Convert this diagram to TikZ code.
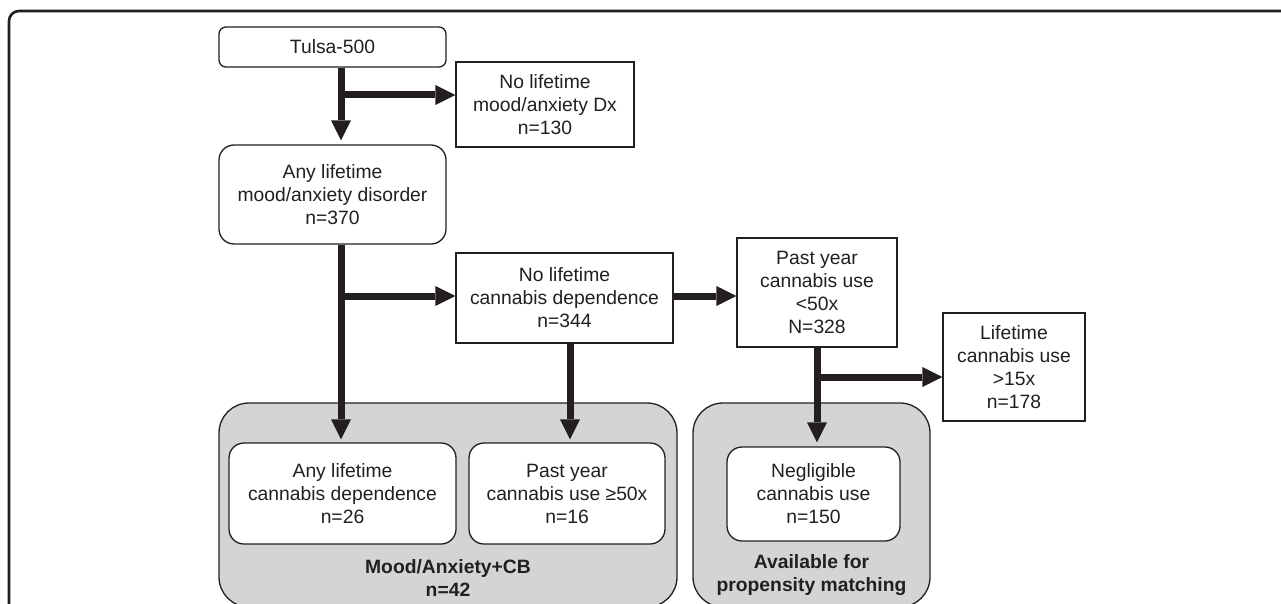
\documentclass[tikz,border=0pt]{standalone}
\usepackage{fontspec}
\setmainfont{Liberation Sans}
\usetikzlibrary{arrows.meta}
\definecolor{ink}{HTML}{231F20}
\definecolor{panel}{HTML}{D3D4D6}
\begin{document}
\begin{tikzpicture}[x=1pt,y=-1pt,
  txt/.style={font=\fontsize{19.3}{23}\selectfont, align=center, text=ink},
  boldtxt/.style={font=\fontsize{19.3}{23}\selectfont\bfseries, align=center, text=ink},
  sq/.style={txt, draw=ink, line width=1.3pt, fill=white, inner sep=0pt},
  rbox/.style={sq, rounded corners=#1},
  panelbox/.style={draw=ink, line width=1.3pt, fill=panel, rounded corners=30pt, inner sep=0pt},
  arr/.style={draw=ink, line width=7pt, -{Triangle[length=20pt,width=20pt,line width=0pt]}},
  frame/.style={draw=ink, line width=2.6pt, rounded corners=10pt}
]
\useasboundingbox (0,0) rectangle (1281,604);
\clip (0,0) rectangle (1281,604);
\fill[white] (0,0) rectangle (1281,604);
\draw[frame] (9,11) rectangle (1320,640);

% grey panels
\node[panelbox, minimum width=458pt, minimum height=204pt] (g1) at (448,505) {};
\node[panelbox, minimum width=237pt, minimum height=204pt] (g2) at (811.5,505) {};
\node[boldtxt] (g1lab) at (448,578) {Mood/Anxiety+CB\\n=42};
\node[boldtxt] (g2lab) at (811.5,575.5) {Available for\\propensity matching};

% boxes
\node[rbox=7pt, minimum width=227pt, minimum height=40pt] (tulsa) at (332.5,47) {Tulsa-500};
\node[sq, minimum width=178pt, minimum height=85pt] (nodx) at (545,104.5) {No lifetime\\mood/anxiety Dx\\n=130};
\node[rbox=15pt, minimum width=227pt, minimum height=99pt] (any) at (332.5,194.5) {Any lifetime\\mood/anxiety disorder\\n=370};
\node[sq, minimum width=217pt, minimum height=90pt] (nocd) at (564.5,298) {No lifetime\\cannabis dependence\\n=344};
\node[sq, minimum width=160pt, minimum height=109pt] (py) at (817,292.5) {Past year\\cannabis use\\<50x\\N=328};
\node[sq, minimum width=142pt, minimum height=108pt] (lt) at (1014,367) {Lifetime\\cannabis use\\>15x\\n=178};
\node[rbox=15pt, minimum width=227pt, minimum height=101pt] (in1) at (342.5,493.5) {Any lifetime\\cannabis dependence\\n=26};
\node[rbox=15pt, minimum width=196pt, minimum height=101pt] (in2) at (567,493.5) {Past year\\cannabis use ≥50x\\n=16};
\node[rbox=15pt, minimum width=173pt, minimum height=94pt] (neg) at (813.5,494) {Negligible\\cannabis use\\n=150};

% junction coordinates
\coordinate (c1) at (341,0);
\coordinate (c2) at (570,0);
\coordinate (c3) at (817,0);
\coordinate (j1) at (341,95);
\coordinate (j2) at (341,296);
\coordinate (j3) at (817,377);

% connectors
\draw[arr, shorten >=4pt] (tulsa.south -| c1) -- (any.north -| c1);
\draw[arr] (j1) -- (j1 -| nodx.west);
\draw[arr, shorten >=3pt] (any.south -| c1) -- (in1.north -| c1);
\draw[arr] (j2) -- (j2 -| nocd.west);
\draw[arr] (j2 -| nocd.east) -- (j2 -| py.west);
\draw[arr, shorten >=3pt] (nocd.south -| c2) -- (in2.north -| c2);
\draw[arr, shorten >=4pt] (py.south -| c3) -- (neg.north -| c3);
\draw[arr] (j3) -- (j3 -| lt.west);
\end{tikzpicture}
\end{document}
